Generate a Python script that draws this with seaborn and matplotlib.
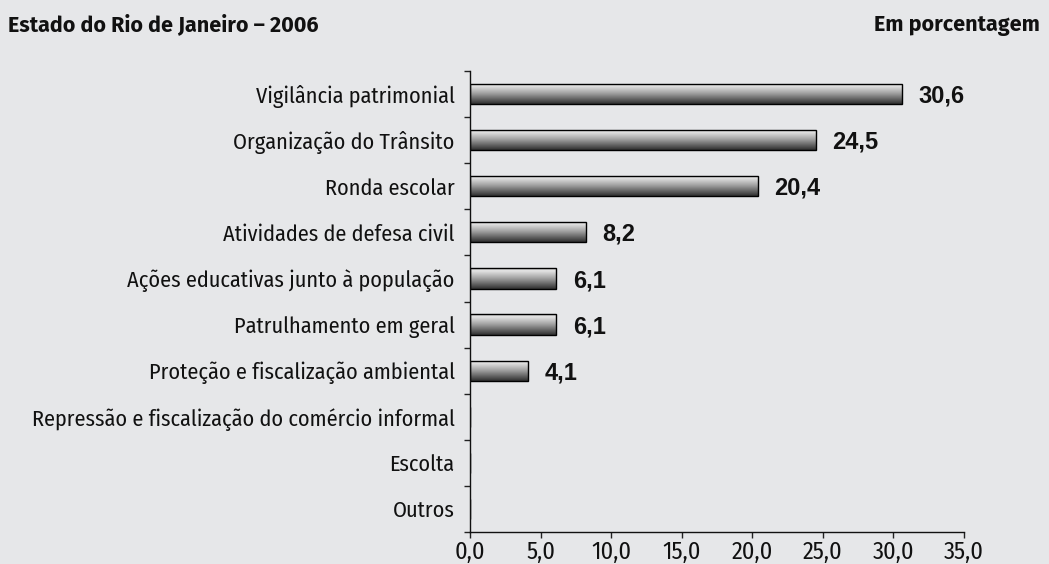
import os
import numpy as np
import pandas as pd
import matplotlib
matplotlib.use('Agg')
import matplotlib.pyplot as plt
from matplotlib import font_manager as fm
from matplotlib.colors import LinearSegmentedColormap
import seaborn as sns

# dados
categorias = ['Vigilância patrimonial', 'Organização do Trânsito', 'Ronda escolar',
              'Atividades de defesa civil', 'Ações educativas junto à população',
              'Patrulhamento em geral', 'Proteção e fiscalização ambiental',
              'Repressão e fiscalização do comércio informal', 'Escolta', 'Outros']
valores = [30.6, 24.5, 20.4, 8.2, 6.1, 6.1, 4.1, 0, 0, 0]
x_ticks = [0, 5, 10, 15, 20, 25, 30, 35]

df = pd.DataFrame({'categoria': categorias, 'valor': valores})

arquivos = {os.path.basename(f).lower(): f for f in fm.findSystemFonts()}


def fonte(candidatos, weight='normal'):
    # candidatos: lista de (arquivo, tamanho)
    for c, size in candidatos:
        if c.lower() in arquivos:
            return fm.FontProperties(fname=arquivos[c.lower()], size=size)
    return fm.FontProperties(family='DejaVu Sans', size=candidatos[-1][1], weight=weight)


f_cat = fonte([('FiraSansCondensed-Regular.ttf', 16), ('DejaVuSansCondensed.ttf', 15)])
f_tick = fonte([('FiraSansCondensed-Regular.ttf', 17.5), ('DejaVuSansCondensed.ttf', 16)])
f_tit = fonte([('FiraSans-Bold.ttf', 15.5), ('FiraSansCondensed-Bold.ttf', 17.5),
               ('DejaVuSansCondensed-Bold.ttf', 15)], 'bold')
f_val = fonte([('LiberationSans-Bold.ttf', 17)], 'bold')

bg = '#e6e7e9'
sns.set_theme(style='white')

fig = plt.figure(figsize=(10.49, 5.64), dpi=100, facecolor=bg)
ax = fig.add_axes([470 / 1049, 1 - 532 / 564, (964 - 470) / 1049, (532 - 71) / 564])
ax.set_facecolor(bg)

sns.barplot(data=df, x='valor', y='categoria', orient='h', color='#888888',
            width=0.44, edgecolor='black', linewidth=1.0, ax=ax)

# preenchimento em degradê nas barras
cmap = LinearSegmentedColormap.from_list('cil', [(0, '#b5b5b5'), (0.12, '#e6e6e6'),
                                                 (0.5, '#9e9e9e'), (1, '#2e2e2e')])
grad = np.linspace(0, 1, 256).reshape(-1, 1)
for bar in ax.patches:
    w = bar.get_width()
    if w <= 0:
        continue
    x0, y0, h = bar.get_x(), bar.get_y(), bar.get_height()
    im = ax.imshow(grad, cmap=cmap, aspect='auto', origin='upper',
                   extent=(x0, x0 + w, y0 + h, y0), zorder=bar.get_zorder() + 0.1)
    im.set_clip_path(bar)
    bar.set_facecolor('none')
    bar.set_zorder(bar.get_zorder() + 0.2)
ax.set_xlim(0, 35)
ax.set_ylim(len(categorias) - 0.5, -0.5)

for i, v in enumerate(valores):
    if v > 0:
        ax.annotate(f'{v:.1f}'.replace('.', ','), (v, i), xytext=(12, -1.5),
                    textcoords='offset points', ha='left', va='center',
                    fontproperties=f_val, color='#111111')

ax.set_xticks(x_ticks)
ax.set_xticklabels([f'{t:.1f}'.replace('.', ',') for t in x_ticks],
                   fontproperties=f_tick, color='#111111')
ax.set_yticks(range(len(categorias)))
ax.set_yticklabels(categorias, fontproperties=f_cat, color='#111111')
ax.set_yticks(np.arange(-0.5, len(categorias)), minor=True)
ax.tick_params(axis='y', which='major', length=0, pad=11)
ax.tick_params(axis='y', which='minor', left=True, length=4, width=1, color='#222222')
ax.tick_params(axis='x', which='major', bottom=True, length=4, width=1,
               color='#222222', pad=2)
ax.set_xlabel('')
ax.set_ylabel('')

sns.despine(ax=ax)
for s in ['left', 'bottom']:
    ax.spines[s].set_color('#111111')
    ax.spines[s].set_linewidth(1.0)

fig.text(8 / 1049, 1 - 25 / 564, 'Estado do Rio de Janeiro – 2006', ha='left', va='center',
         fontproperties=f_tit, color='#111111')
fig.text(1040 / 1049, 1 - 25 / 564, 'Em porcentagem', ha='right', va='center',
         fontproperties=f_tit, color='#111111')

fig.savefig('out.png', dpi=100, facecolor=bg)
